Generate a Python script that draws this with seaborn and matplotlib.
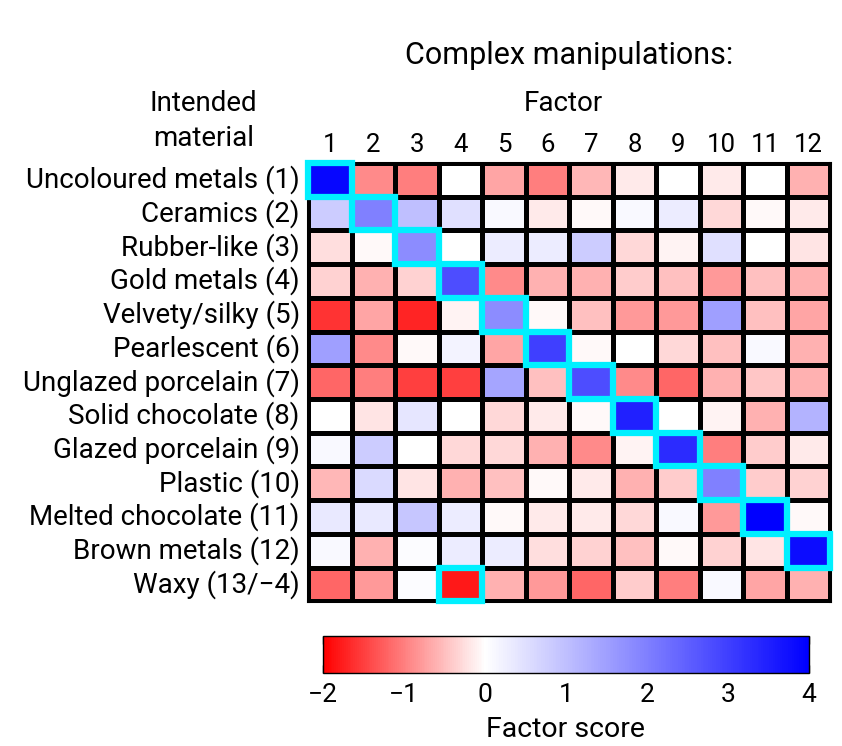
import numpy as np
import pandas as pd
import matplotlib
matplotlib.use("Agg")
import matplotlib.pyplot as plt
import seaborn as sns
from matplotlib.colors import LinearSegmentedColormap
from matplotlib.patches import Rectangle

# materiais (linhas) e fatores (colunas)
materiais = ["Uncoloured metals (1)", "Ceramics (2)", "Rubber-like (3)", "Gold metals (4)",
             "Velvety/silky (5)", "Pearlescent (6)", "Unglazed porcelain (7)",
             "Solid chocolate (8)", "Glazed porcelain (9)", "Plastic (10)",
             "Melted chocolate (11)", "Brown metals (12)", "Waxy (13/\u22124)"]
fatores = [str(i) for i in range(1, 13)]

# scores (estimados)
r01 = [3.9, -0.9, -1.0, 0.0, -0.7, -1.0, -0.55, -0.15, 0.0, -0.15, 0.0, -0.6]
r02 = [0.8, 2.0, 1.0, 0.5, 0.1, -0.15, -0.05, 0.1, 0.3, -0.3, -0.05, -0.15]
r03 = [-0.25, -0.05, 1.8, 0.0, 0.3, 0.3, 0.8, -0.3, -0.1, 0.5, 0.0, -0.2]
r04 = [-0.35, -0.6, -0.35, 2.8, -0.9, -0.6, -0.6, -0.4, -0.5, -0.8, -0.5, -0.6]
r05 = [-1.6, -0.7, -1.7, -0.1, 1.8, -0.05, -0.5, -0.8, -0.8, 1.5, -0.5, -0.7]
r06 = [1.5, -0.9, -0.05, 0.2, -0.7, 3.0, -0.05, 0.0, -0.3, -0.5, 0.1, -0.6]
r07 = [-1.2, -1.0, -1.5, -1.5, 1.4, -0.5, 2.8, -0.9, -1.2, -0.6, -0.45, -0.6]
r08 = [0.0, -0.2, 0.4, 0.0, -0.3, -0.15, -0.05, 3.5, 0.0, -0.1, -0.6, 1.2]
r09 = [0.1, 0.8, 0.0, -0.3, -0.3, -0.6, -0.9, -0.1, 3.3, -1.0, -0.4, -0.15]
r10 = [-0.55, 0.6, -0.2, -0.6, -0.5, -0.05, -0.15, -0.6, -0.4, 2.0, -0.4, -0.35]
r11 = [0.35, 0.35, 0.9, 0.3, -0.05, -0.15, -0.15, -0.3, 0.1, -0.8, 4.0, -0.05]
r12 = [0.1, -0.6, 0.05, 0.3, 0.3, -0.25, -0.35, -0.5, -0.05, -0.35, -0.2, 3.8]
r13 = [-1.2, -0.8, 0.05, -1.8, -0.6, -0.8, -1.2, -0.4, -1.0, 0.1, -0.7, -0.6]

# celulas destacadas (linha, coluna)
destaques = [(i, i) for i in range(12)] + [(12, 3)]

df = pd.DataFrame([r01, r02, r03, r04, r05, r06, r07, r08, r09, r10, r11, r12, r13],
                  index=materiais, columns=fatores)

sns.set_theme(style="white")
plt.rcParams['font.family'] = ['Roboto', 'DejaVu Sans']
plt.rcParams['text.color'] = 'black'
plt.rcParams['xtick.color'] = 'black'
plt.rcParams['ytick.color'] = 'black'
plt.rcParams['axes.labelcolor'] = 'black'

cmap = LinearSegmentedColormap.from_list("rwb", [(0, "#ff0000"), (1/3, "#ffffff"), (1, "#0000ff")])

fig = plt.figure(figsize=(8.42, 7.46), dpi=100)
ax = fig.add_axes([0.366, 0.194, 0.620, 0.5875])
cax = fig.add_axes([0.3836, 0.098, 0.577, 0.0496])

sns.heatmap(df, ax=ax, cmap=cmap, vmin=-2, vmax=4, linewidths=2.2, linecolor="black",
            cbar_ax=cax, cbar_kws={"orientation": "horizontal", "ticks": [-2, -1, 0, 1, 2, 3, 4]})

ax.xaxis.tick_top()
ax.tick_params(axis="both", length=0, labelsize=18.5, pad=4)
ax.tick_params(axis="y", pad=6)
ax.set_xticklabels(fatores, rotation=0)
ax.set_yticklabels(materiais, rotation=0, fontsize=20)
ax.set_xlabel("")
ax.set_ylabel("")
for s in ax.spines.values():
    s.set_visible(True)
    s.set_color("black")
    s.set_linewidth(2.2)

for (i, j) in destaques:
    ax.add_patch(Rectangle((j, i), 1, 1, fill=False, edgecolor="#00f0ff", linewidth=4.5,
                           zorder=5, clip_on=False))

fig.text(0.676, 0.926, "Complex manipulations:", ha="center", va="center", fontsize=22)
fig.text(0.669, 0.861, "Factor", ha="center", va="center", fontsize=20)
fig.text(0.242, 0.838, "Intended\nmaterial", ha="center", va="center", fontsize=20,
         linespacing=1.35)

cb = ax.collections[0].colorbar
cb.ax.tick_params(direction="in", top=True, bottom=True, length=6, width=1, color="#222222",
                  labelsize=19, pad=7)
cb.ax.set_xticklabels(["\u22122", "\u22121", "0", "1", "2", "3", "4"])
cb.set_label("Factor score", fontsize=20.5, labelpad=7)
cb.outline.set_edgecolor("black")
cb.outline.set_linewidth(1)

fig.savefig("out.png", dpi=100, facecolor="white")
